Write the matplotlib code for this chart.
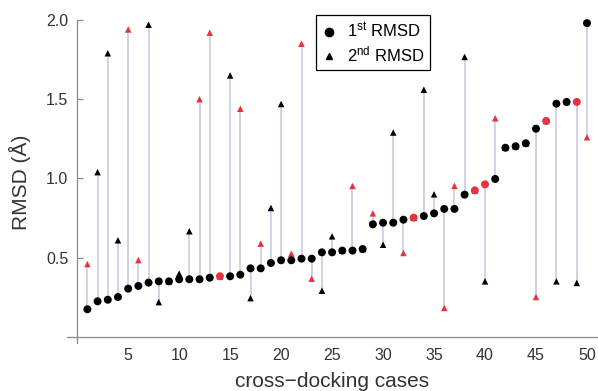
import matplotlib as mpl, matplotlib.pyplot as plt
from matplotlib.lines import Line2D
mpl.rcParams.update({'font.family': ['Liberation Sans', 'DejaVu Sans'],
                     'mathtext.fontset': 'custom', 'mathtext.rm': 'Liberation Sans',
                     'mathtext.it': 'Liberation Sans:italic'})

# 50 个 cross-docking case, 第一次 RMSD 已排序
cases = list(range(1, 51))
rmsd1 = [0.175, 0.225, 0.235, 0.252, 0.305, 0.322, 0.343, 0.351, 0.351, 0.364,
         0.364, 0.364, 0.374, 0.383, 0.383, 0.393, 0.433, 0.433, 0.467, 0.484,
         0.484, 0.494, 0.494, 0.534, 0.534, 0.545, 0.545, 0.555, 0.711, 0.721,
         0.721, 0.740, 0.753, 0.763, 0.780, 0.808, 0.808, 0.898, 0.925, 0.963,
         0.997, 1.194, 1.203, 1.222, 1.314, 1.363, 1.472, 1.483, 1.483, 1.980]
rmsd2 = [0.460, 1.040, 1.790, 0.610, 1.940, 0.485, 1.970, 0.220, 0.351, 0.400,
         0.667, 1.500, 1.920, 0.383, 1.650, 1.440, 0.245, 0.589, 0.814, 1.470,
         0.526, 1.850, 0.368, 0.292, 0.635, 0.545, 0.953, 0.555, 0.780, 0.582,
         1.290, 0.530, 0.753, 1.560, 0.900, 0.183, 0.953, 1.767, 0.925, 0.351,
         1.380, 1.194, 1.203, 1.222, 0.252, 1.363, 0.351, 1.483, 0.341, 1.260]
dot_red = [14, 33, 39, 40, 46, 49]
tri_red = [1, 5, 6, 12, 13, 16, 18, 21, 22, 23, 27, 29, 32, 36, 37, 41, 45, 50]
xticks = [5, 10, 15, 20, 25, 30, 35, 40, 45, 50]
yticks = [0.5, 1.0, 1.5, 2.0]

RED = '#e8333f'
dot_c = [RED if c in dot_red else 'black' for c in cases]
tri_c = [RED if c in tri_red else 'black' for c in cases]

fig = plt.figure(figsize=(5.98, 3.91), dpi=100)
ax = fig.add_axes([67/598, 1 - 346.5/391, 531/598, 346.5/391])

ax.vlines(cases, rmsd1, rmsd2, color='#cacae6', lw=1.2, zorder=1)
ax.scatter(cases, rmsd2, marker='^', s=22, c=tri_c, linewidths=0, zorder=2)
ax.scatter(cases, rmsd1, marker='o', s=33, c=dot_c, linewidths=0, zorder=3)

ax.set_xlim(-1.0, 51.08)
ax.set_ylim(-0.06, 2.126)
for s in ['top', 'right']:
    ax.spines[s].set_visible(False)
ax.spines['left'].set_position(('data', 0))
ax.spines['left'].set_bounds(-0.04, 2.0)
ax.spines['bottom'].set_position(('data', 0))
for s in ['left', 'bottom']:
    ax.spines[s].set_color('#8a8a8a')
    ax.spines[s].set_linewidth(0.9)

ax.set_xticks(xticks)
ax.set_yticks(yticks)
ax.set_yticklabels([f'{v:.1f}' for v in yticks])
ax.tick_params(axis='x', length=0, pad=8, labelsize=11.5, labelcolor='#333333')
ax.tick_params(axis='y', direction='in', length=4, width=0.9, color='#8a8a8a',
               pad=6.5, labelsize=11.5, labelcolor='#333333')

ax.set_xlabel('cross\u2212docking cases', fontsize=15, color='#333333')
ax.xaxis.set_label_coords((332 - 67) / 531, -(372 - 346.5) / 346.5)
ax.set_ylabel('RMSD (Å)', fontsize=15, color='#333333')
ax.yaxis.set_label_coords(-(67 - 31) / 531, (346.5 - 182) / 346.5)

handles = [Line2D([], [], ls='', marker='o', color='black', ms=6),
           Line2D([], [], ls='', marker='^', color='black', ms=5)]
leg = ax.legend(handles, ['1$^{\\mathrm{st}}$ RMSD', '2$^{\\mathrm{nd}}$ RMSD'],
                loc='upper left', bbox_to_anchor=(316/598, 1 - 15/391),
                bbox_transform=fig.transFigure, fontsize=12, fancybox=False,
                edgecolor='black', framealpha=1, handlelength=0.9,
                handletextpad=0.6, borderpad=0.35, labelspacing=0.25,
                borderaxespad=0)
leg.get_frame().set_linewidth(0.9)

fig.savefig('out.png', dpi=100)
